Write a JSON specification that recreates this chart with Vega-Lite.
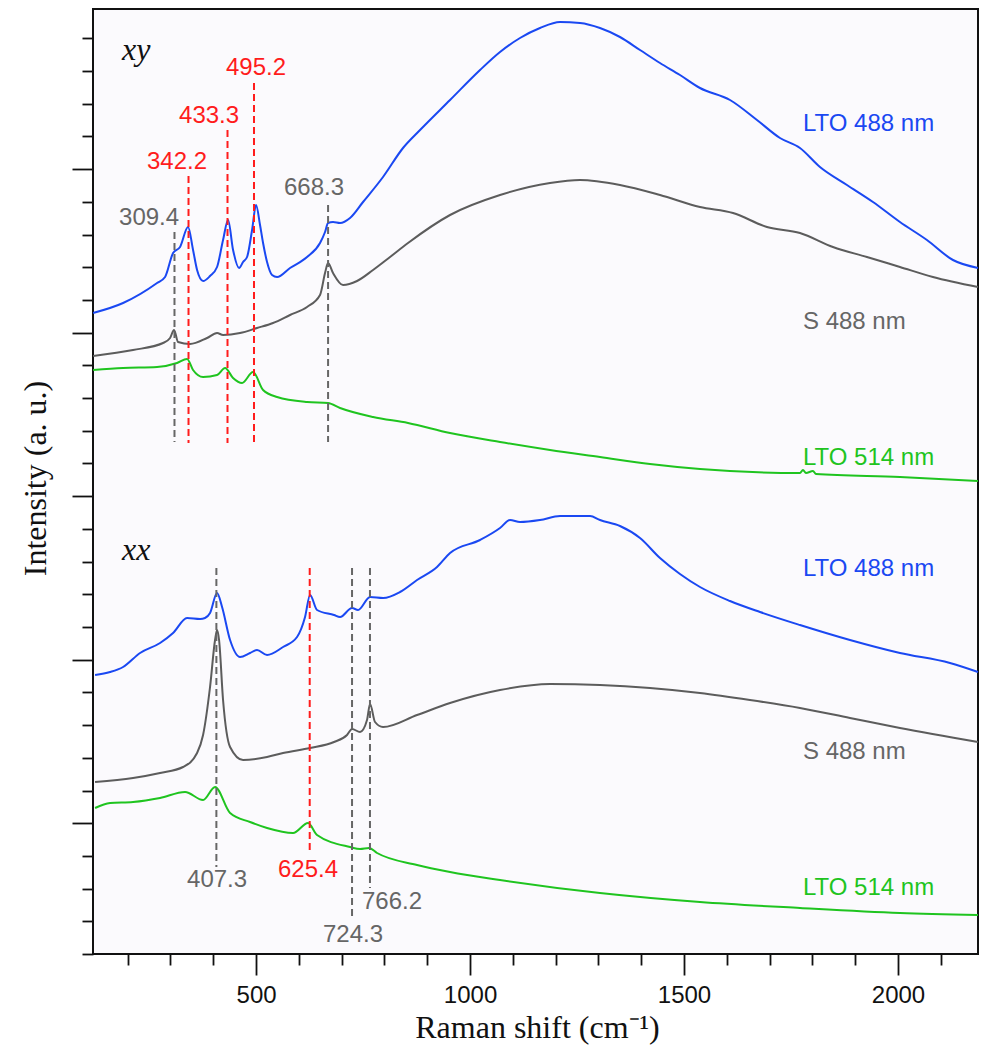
{
"$schema":"https://vega.github.io/schema/vega-lite/v6.json",
"width":885,"height":945,
"autosize":{"type":"none"},
"padding":{"left":93,"top":9,"right":16,"bottom":107},
"background":"white",
"config":{"view":{"fill":"#fbfafd","stroke":"#111111","strokeWidth":2},"axis":{"domain":false,"grid":false,"tickColor":"#111111","tickWidth":1.8}},
"resolve":{"axis":{"x":"independent","y":"independent"}},
"datasets":{
"curves":[
{"g":"LTO 488 nm","p":"xy","x":119.2,"y":641},{"g":"LTO 488 nm","p":"xy","x":189.3,"y":651},{"g":"LTO 488 nm","p":"xy","x":268.7,"y":671},{"g":"LTO 488 nm","p":"xy","x":287.4,"y":677},{"g":"LTO 488 nm","p":"xy","x":306.1,"y":701},{"g":"LTO 488 nm","p":"xy","x":322.4,"y":707},{"g":"LTO 488 nm","p":"xy","x":341.1,"y":727},{"g":"LTO 488 nm","p":"xy","x":352.8,"y":704},{"g":"LTO 488 nm","p":"xy","x":362.2,"y":684},{"g":"LTO 488 nm","p":"xy","x":376.2,"y":673},{"g":"LTO 488 nm","p":"xy","x":392.5,"y":678},{"g":"LTO 488 nm","p":"xy","x":408.9,"y":687},{"g":"LTO 488 nm","p":"xy","x":422.9,"y":714},{"g":"LTO 488 nm","p":"xy","x":434.6,"y":734},{"g":"LTO 488 nm","p":"xy","x":446.3,"y":704},{"g":"LTO 488 nm","p":"xy","x":460.3,"y":686},{"g":"LTO 488 nm","p":"xy","x":469.6,"y":692},{"g":"LTO 488 nm","p":"xy","x":479,"y":697},{"g":"LTO 488 nm","p":"xy","x":490.7,"y":724},{"g":"LTO 488 nm","p":"xy","x":500,"y":749},{"g":"LTO 488 nm","p":"xy","x":509.3,"y":729},{"g":"LTO 488 nm","p":"xy","x":516.4,"y":711},{"g":"LTO 488 nm","p":"xy","x":525.7,"y":692},{"g":"LTO 488 nm","p":"xy","x":537.4,"y":679},{"g":"LTO 488 nm","p":"xy","x":549.1,"y":677},{"g":"LTO 488 nm","p":"xy","x":579.4,"y":686},{"g":"LTO 488 nm","p":"xy","x":619.2,"y":697},{"g":"LTO 488 nm","p":"xy","x":649.5,"y":711},{"g":"LTO 488 nm","p":"xy","x":661.2,"y":722},{"g":"LTO 488 nm","p":"xy","x":668.2,"y":731},{"g":"LTO 488 nm","p":"xy","x":679.9,"y":732},{"g":"LTO 488 nm","p":"xy","x":696.3,"y":731},{"g":"LTO 488 nm","p":"xy","x":719.6,"y":736},{"g":"LTO 488 nm","p":"xy","x":750,"y":752},{"g":"LTO 488 nm","p":"xy","x":796.7,"y":777},{"g":"LTO 488 nm","p":"xy","x":843.4,"y":806},{"g":"LTO 488 nm","p":"xy","x":883.2,"y":824},{"g":"LTO 488 nm","p":"xy","x":953.3,"y":854},{"g":"LTO 488 nm","p":"xy","x":1023.4,"y":884},{"g":"LTO 488 nm","p":"xy","x":1070.1,"y":902},{"g":"LTO 488 nm","p":"xy","x":1116.8,"y":916},{"g":"LTO 488 nm","p":"xy","x":1163.5,"y":926},{"g":"LTO 488 nm","p":"xy","x":1210.3,"y":932},{"g":"LTO 488 nm","p":"xy","x":1257,"y":931},{"g":"LTO 488 nm","p":"xy","x":1303.7,"y":926},{"g":"LTO 488 nm","p":"xy","x":1350.4,"y":917},{"g":"LTO 488 nm","p":"xy","x":1397.2,"y":904},{"g":"LTO 488 nm","p":"xy","x":1443.9,"y":891},{"g":"LTO 488 nm","p":"xy","x":1490.6,"y":879},{"g":"LTO 488 nm","p":"xy","x":1537.4,"y":866},{"g":"LTO 488 nm","p":"xy","x":1607.5,"y":854},{"g":"LTO 488 nm","p":"xy","x":1670.5,"y":834},{"g":"LTO 488 nm","p":"xy","x":1724.3,"y":816},{"g":"LTO 488 nm","p":"xy","x":1771,"y":806},{"g":"LTO 488 nm","p":"xy","x":1817.7,"y":787},{"g":"LTO 488 nm","p":"xy","x":1880.8,"y":769},{"g":"LTO 488 nm","p":"xy","x":1941.6,"y":752},{"g":"LTO 488 nm","p":"xy","x":2004.6,"y":732},{"g":"LTO 488 nm","p":"xy","x":2067.7,"y":714},{"g":"LTO 488 nm","p":"xy","x":2128.5,"y":694},{"g":"LTO 488 nm","p":"xy","x":2186.9,"y":686},
{"g":"S 488 nm","p":"xy","x":119.2,"y":598},{"g":"S 488 nm","p":"xy","x":212.6,"y":604},{"g":"S 488 nm","p":"xy","x":282.7,"y":611},{"g":"S 488 nm","p":"xy","x":299.1,"y":616},{"g":"S 488 nm","p":"xy","x":308.4,"y":624},{"g":"S 488 nm","p":"xy","x":317.8,"y":612},{"g":"S 488 nm","p":"xy","x":345.8,"y":610},{"g":"S 488 nm","p":"xy","x":385.5,"y":616},{"g":"S 488 nm","p":"xy","x":408.9,"y":621},{"g":"S 488 nm","p":"xy","x":422.9,"y":619},{"g":"S 488 nm","p":"xy","x":462.6,"y":621},{"g":"S 488 nm","p":"xy","x":502.3,"y":626},{"g":"S 488 nm","p":"xy","x":539.7,"y":631},{"g":"S 488 nm","p":"xy","x":579.4,"y":639},{"g":"S 488 nm","p":"xy","x":619.2,"y":647},{"g":"S 488 nm","p":"xy","x":649.5,"y":659},{"g":"S 488 nm","p":"xy","x":661.2,"y":681},{"g":"S 488 nm","p":"xy","x":668.2,"y":691},{"g":"S 488 nm","p":"xy","x":679.9,"y":681},{"g":"S 488 nm","p":"xy","x":703.3,"y":669},{"g":"S 488 nm","p":"xy","x":736,"y":673},{"g":"S 488 nm","p":"xy","x":773.4,"y":684},{"g":"S 488 nm","p":"xy","x":813.1,"y":697},{"g":"S 488 nm","p":"xy","x":855.1,"y":711},{"g":"S 488 nm","p":"xy","x":953.3,"y":739},{"g":"S 488 nm","p":"xy","x":1070.1,"y":759},{"g":"S 488 nm","p":"xy","x":1186.9,"y":771},{"g":"S 488 nm","p":"xy","x":1257,"y":774},{"g":"S 488 nm","p":"xy","x":1350.4,"y":769},{"g":"S 488 nm","p":"xy","x":1443.9,"y":759},{"g":"S 488 nm","p":"xy","x":1537.4,"y":747},{"g":"S 488 nm","p":"xy","x":1614.5,"y":741},{"g":"S 488 nm","p":"xy","x":1693.9,"y":727},{"g":"S 488 nm","p":"xy","x":1771,"y":721},{"g":"S 488 nm","p":"xy","x":1848.1,"y":707},{"g":"S 488 nm","p":"xy","x":1927.5,"y":697},{"g":"S 488 nm","p":"xy","x":2004.6,"y":687},{"g":"S 488 nm","p":"xy","x":2081.7,"y":677},{"g":"S 488 nm","p":"xy","x":2186.9,"y":667},
{"g":"LTO 514 nm","p":"xy","x":119.2,"y":584},{"g":"LTO 514 nm","p":"xy","x":189.3,"y":586},{"g":"LTO 514 nm","p":"xy","x":268.7,"y":587},{"g":"LTO 514 nm","p":"xy","x":315.4,"y":591},{"g":"LTO 514 nm","p":"xy","x":338.8,"y":595},{"g":"LTO 514 nm","p":"xy","x":352.8,"y":584},{"g":"LTO 514 nm","p":"xy","x":376.2,"y":577},{"g":"LTO 514 nm","p":"xy","x":408.9,"y":579},{"g":"LTO 514 nm","p":"xy","x":427.6,"y":586},{"g":"LTO 514 nm","p":"xy","x":446.3,"y":576},{"g":"LTO 514 nm","p":"xy","x":467.3,"y":571},{"g":"LTO 514 nm","p":"xy","x":493,"y":582},{"g":"LTO 514 nm","p":"xy","x":516.4,"y":564},{"g":"LTO 514 nm","p":"xy","x":549.1,"y":557},{"g":"LTO 514 nm","p":"xy","x":619.2,"y":552},{"g":"LTO 514 nm","p":"xy","x":668.2,"y":551},{"g":"LTO 514 nm","p":"xy","x":696.3,"y":546},{"g":"LTO 514 nm","p":"xy","x":773.4,"y":537},{"g":"LTO 514 nm","p":"xy","x":855.1,"y":531},{"g":"LTO 514 nm","p":"xy","x":953.3,"y":521},{"g":"LTO 514 nm","p":"xy","x":1070.1,"y":512},{"g":"LTO 514 nm","p":"xy","x":1186.9,"y":504},{"g":"LTO 514 nm","p":"xy","x":1303.7,"y":497},{"g":"LTO 514 nm","p":"xy","x":1420.5,"y":490},{"g":"LTO 514 nm","p":"xy","x":1537.4,"y":485},{"g":"LTO 514 nm","p":"xy","x":1771,"y":481},{"g":"LTO 514 nm","p":"xy","x":1778,"y":484},{"g":"LTO 514 nm","p":"xy","x":1785,"y":481},{"g":"LTO 514 nm","p":"xy","x":1801.4,"y":483},{"g":"LTO 514 nm","p":"xy","x":1808.4,"y":480},{"g":"LTO 514 nm","p":"xy","x":2004.6,"y":477},{"g":"LTO 514 nm","p":"xy","x":2186.9,"y":473},
{"g":"LTO 488 nm","p":"xx","x":123.8,"y":279},{"g":"LTO 488 nm","p":"xx","x":158.9,"y":282},{"g":"LTO 488 nm","p":"xx","x":189.3,"y":287},{"g":"LTO 488 nm","p":"xx","x":229,"y":301},{"g":"LTO 488 nm","p":"xx","x":275.7,"y":311},{"g":"LTO 488 nm","p":"xx","x":306.1,"y":321},{"g":"LTO 488 nm","p":"xx","x":338.8,"y":336},{"g":"LTO 488 nm","p":"xx","x":369.2,"y":335},{"g":"LTO 488 nm","p":"xx","x":380.8,"y":336},{"g":"LTO 488 nm","p":"xx","x":392.5,"y":341},{"g":"LTO 488 nm","p":"xx","x":408.9,"y":361},{"g":"LTO 488 nm","p":"xx","x":420.6,"y":347},{"g":"LTO 488 nm","p":"xx","x":439.3,"y":314},{"g":"LTO 488 nm","p":"xx","x":462.6,"y":297},{"g":"LTO 488 nm","p":"xx","x":486,"y":301},{"g":"LTO 488 nm","p":"xx","x":502.3,"y":304},{"g":"LTO 488 nm","p":"xx","x":525.7,"y":299},{"g":"LTO 488 nm","p":"xx","x":563.1,"y":307},{"g":"LTO 488 nm","p":"xx","x":595.8,"y":317},{"g":"LTO 488 nm","p":"xx","x":614.5,"y":337},{"g":"LTO 488 nm","p":"xx","x":626.2,"y":359},{"g":"LTO 488 nm","p":"xx","x":642.5,"y":344},{"g":"LTO 488 nm","p":"xx","x":682.2,"y":339},{"g":"LTO 488 nm","p":"xx","x":696.3,"y":337},{"g":"LTO 488 nm","p":"xx","x":724.3,"y":346},{"g":"LTO 488 nm","p":"xx","x":738.3,"y":344},{"g":"LTO 488 nm","p":"xx","x":766.4,"y":357},{"g":"LTO 488 nm","p":"xx","x":796.7,"y":356},{"g":"LTO 488 nm","p":"xx","x":836.4,"y":362},{"g":"LTO 488 nm","p":"xx","x":876.2,"y":374},{"g":"LTO 488 nm","p":"xx","x":922.9,"y":387},{"g":"LTO 488 nm","p":"xx","x":953.3,"y":401},{"g":"LTO 488 nm","p":"xx","x":1023.4,"y":414},{"g":"LTO 488 nm","p":"xx","x":1070.1,"y":426},{"g":"LTO 488 nm","p":"xx","x":1093.4,"y":434},{"g":"LTO 488 nm","p":"xx","x":1116.8,"y":432},{"g":"LTO 488 nm","p":"xx","x":1163.5,"y":434},{"g":"LTO 488 nm","p":"xx","x":1210.3,"y":438},{"g":"LTO 488 nm","p":"xx","x":1280.4,"y":438},{"g":"LTO 488 nm","p":"xx","x":1303.7,"y":434},{"g":"LTO 488 nm","p":"xx","x":1350.4,"y":428},{"g":"LTO 488 nm","p":"xx","x":1397.2,"y":416},{"g":"LTO 488 nm","p":"xx","x":1443.9,"y":396},{"g":"LTO 488 nm","p":"xx","x":1490.6,"y":380},{"g":"LTO 488 nm","p":"xx","x":1537.4,"y":367},{"g":"LTO 488 nm","p":"xx","x":1607.5,"y":353},{"g":"LTO 488 nm","p":"xx","x":1677.5,"y":342},{"g":"LTO 488 nm","p":"xx","x":1771,"y":329},{"g":"LTO 488 nm","p":"xx","x":1887.8,"y":314},{"g":"LTO 488 nm","p":"xx","x":2004.6,"y":301},{"g":"LTO 488 nm","p":"xx","x":2121.5,"y":291},{"g":"LTO 488 nm","p":"xx","x":2186.9,"y":282},
{"g":"S 488 nm","p":"xx","x":123.8,"y":172},{"g":"S 488 nm","p":"xx","x":212.6,"y":176},{"g":"S 488 nm","p":"xx","x":275.7,"y":181},{"g":"S 488 nm","p":"xx","x":329.4,"y":187},{"g":"S 488 nm","p":"xx","x":362.2,"y":201},{"g":"S 488 nm","p":"xx","x":376.2,"y":219},{"g":"S 488 nm","p":"xx","x":392.5,"y":267},{"g":"S 488 nm","p":"xx","x":404.2,"y":314},{"g":"S 488 nm","p":"xx","x":408.9,"y":324},{"g":"S 488 nm","p":"xx","x":413.6,"y":314},{"g":"S 488 nm","p":"xx","x":422.9,"y":254},{"g":"S 488 nm","p":"xx","x":439.3,"y":207},{"g":"S 488 nm","p":"xx","x":469.6,"y":194},{"g":"S 488 nm","p":"xx","x":525.7,"y":197},{"g":"S 488 nm","p":"xx","x":563.1,"y":201},{"g":"S 488 nm","p":"xx","x":626.2,"y":206},{"g":"S 488 nm","p":"xx","x":682.2,"y":212},{"g":"S 488 nm","p":"xx","x":712.6,"y":219},{"g":"S 488 nm","p":"xx","x":724.3,"y":225},{"g":"S 488 nm","p":"xx","x":743,"y":222},{"g":"S 488 nm","p":"xx","x":759.3,"y":234},{"g":"S 488 nm","p":"xx","x":766.4,"y":250},{"g":"S 488 nm","p":"xx","x":778,"y":232},{"g":"S 488 nm","p":"xx","x":796.7,"y":227},{"g":"S 488 nm","p":"xx","x":876.2,"y":239},{"g":"S 488 nm","p":"xx","x":953.3,"y":251},{"g":"S 488 nm","p":"xx","x":1070.1,"y":264},{"g":"S 488 nm","p":"xx","x":1186.9,"y":270},{"g":"S 488 nm","p":"xx","x":1303.7,"y":269},{"g":"S 488 nm","p":"xx","x":1420.5,"y":266},{"g":"S 488 nm","p":"xx","x":1537.4,"y":261},{"g":"S 488 nm","p":"xx","x":1654.2,"y":254},{"g":"S 488 nm","p":"xx","x":1771,"y":246},{"g":"S 488 nm","p":"xx","x":1887.8,"y":236},{"g":"S 488 nm","p":"xx","x":2004.6,"y":226},{"g":"S 488 nm","p":"xx","x":2186.9,"y":212},
{"g":"LTO 514 nm","p":"xx","x":123.8,"y":146},{"g":"LTO 514 nm","p":"xx","x":158.9,"y":151},{"g":"LTO 514 nm","p":"xx","x":212.6,"y":152},{"g":"LTO 514 nm","p":"xx","x":275.7,"y":156},{"g":"LTO 514 nm","p":"xx","x":334.1,"y":162},{"g":"LTO 514 nm","p":"xx","x":376.2,"y":154},{"g":"LTO 514 nm","p":"xx","x":404.2,"y":167},{"g":"LTO 514 nm","p":"xx","x":439.3,"y":141},{"g":"LTO 514 nm","p":"xx","x":486,"y":132},{"g":"LTO 514 nm","p":"xx","x":525.7,"y":126},{"g":"LTO 514 nm","p":"xx","x":586.4,"y":121},{"g":"LTO 514 nm","p":"xx","x":621.5,"y":131},{"g":"LTO 514 nm","p":"xx","x":642.5,"y":119},{"g":"LTO 514 nm","p":"xx","x":719.6,"y":107},{"g":"LTO 514 nm","p":"xx","x":743,"y":105},{"g":"LTO 514 nm","p":"xx","x":764,"y":106},{"g":"LTO 514 nm","p":"xx","x":782.7,"y":101},{"g":"LTO 514 nm","p":"xx","x":876.2,"y":89},{"g":"LTO 514 nm","p":"xx","x":953.3,"y":82},{"g":"LTO 514 nm","p":"xx","x":1070.1,"y":74},{"g":"LTO 514 nm","p":"xx","x":1303.7,"y":61},{"g":"LTO 514 nm","p":"xx","x":1537.4,"y":52},{"g":"LTO 514 nm","p":"xx","x":1771,"y":46},{"g":"LTO 514 nm","p":"xx","x":2004.6,"y":41},{"g":"LTO 514 nm","p":"xx","x":2186.9,"y":39}
],
"modes":[
{"x":309.4,"y":722,"y2":512,"g":"S mode","t":"309.4","lx":250,"ly":736},
{"x":342.2,"y":778,"y2":511,"g":"LTO mode","t":"342.2","lx":315.4,"ly":792},
{"x":433.3,"y":824,"y2":511,"g":"LTO mode","t":"433.3","lx":390.2,"ly":838},
{"x":495.2,"y":871,"y2":511,"g":"LTO mode","t":"495.2","lx":500,"ly":886},
{"x":668.3,"y":749,"y2":512,"g":"S mode","t":"668.3","lx":635.5,"ly":766},
{"x":407.3,"y":386,"y2":87,"g":"S mode","t":"407.3","lx":408.9,"ly":74},
{"x":625.4,"y":386,"y2":102,"g":"LTO mode","t":"625.4","lx":621.5,"ly":84},
{"x":724.3,"y":386,"y2":36,"g":"S mode","t":"724.3","lx":726.6,"ly":19},
{"x":766.2,"y":386,"y2":66,"g":"S mode","t":"766.2","lx":817.8,"ly":52}
],
"names":[
{"x":1778,"y":830,"t":"LTO 488 nm","g":"LTO 488 nm"},
{"x":1778,"y":632,"t":"S 488 nm","g":"S mode"},
{"x":1778,"y":496,"t":"LTO 514 nm","g":"LTO 514 nm"},
{"x":1778,"y":385,"t":"LTO 488 nm","g":"LTO 488 nm"},
{"x":1778,"y":202,"t":"S 488 nm","g":"S mode"},
{"x":1778,"y":66,"t":"LTO 514 nm","g":"LTO 514 nm"}
],
"pols":[{"x":187,"y":894,"t":"xy"},{"x":187,"y":394,"t":"xx"}]
},
"layer":[
{"data":{"name":"curves"},"mark":{"type":"line","strokeWidth":2,"interpolate":"monotone"},
"encoding":{
"x":{"field":"x","type":"quantitative","scale":{"domain":[119,2187],"nice":false,"zero":false},
"axis":{"orient":"bottom","values":[500,1000,1500,2000],"format":"d","tickSize":21,"labelFont":"Liberation Sans","labelFontSize":24,"labelColor":"#111111","labelPadding":8,"title":"Raman shift (cm⁻¹)","titleFont":"Liberation Serif","titleFontSize":32,"titleFontWeight":"normal","titleColor":"#111111","titleX":444,"titleY":83,"titleBaseline":"alphabetic"}},
"y":{"field":"y","type":"quantitative","scale":{"domain":[0,945],"nice":false,"zero":false},
"axis":{"orient":"left","values":[130.8,294.3,457.8,621.3,784.8],"tickSize":21,"labels":false,"title":"Intensity (a. u.)","titleFont":"Liberation Serif","titleFontSize":32,"titleFontWeight":"normal","titleColor":"#111111","titleX":-48,"titleY":469,"titleAngle":-90,"titleAlign":"center","titleBaseline":"alphabetic"}},
"color":{"field":"g","type":"nominal","legend":null,"scale":{"domain":["LTO 488 nm","S 488 nm","LTO 514 nm","LTO mode","S mode"],"range":["#1a48f2","#5c5c5c","#1fc41f","#ff1c1c","#666666"]}},
"detail":{"field":"p","type":"nominal"}}},
{"data":{"name":"modes"},"mark":{"type":"rule","strokeWidth":2,"strokeDash":[7,4]},
"encoding":{
"x":{"field":"x","type":"quantitative","axis":{"orient":"bottom","values":[200,300,400,600,700,800,900,1100,1200,1300,1400,1600,1700,1800,1900,2100],"tickSize":11,"labels":false,"title":null}},
"y":{"field":"y","type":"quantitative","axis":{"orient":"left","values":[0,32.7,65.4,98.1,163.5,196.2,228.9,261.6,327,359.7,392.4,425.1,490.5,523.2,555.9,588.6,654,686.7,719.4,752.1,817.5,850.2,882.9,915.6],"tickSize":11,"labels":false,"title":null}},
"y2":{"field":"y2"},
"color":{"field":"g","type":"nominal","legend":null}}},
{"data":{"name":"modes"},"mark":{"type":"text","font":"Liberation Sans","fontSize":24,"align":"center","baseline":"middle"},
"encoding":{
"x":{"field":"lx","type":"quantitative","axis":null},
"y":{"field":"ly","type":"quantitative","axis":null},
"text":{"field":"t"},
"color":{"field":"g","type":"nominal","legend":null}}},
{"data":{"name":"names"},"mark":{"type":"text","font":"Liberation Sans","fontSize":24,"align":"left","baseline":"middle"},
"encoding":{
"x":{"field":"x","type":"quantitative","axis":null},
"y":{"field":"y","type":"quantitative","axis":null},
"text":{"field":"t"},
"color":{"field":"g","type":"nominal","legend":null}}},
{"data":{"name":"pols"},"mark":{"type":"text","font":"Liberation Serif","fontSize":32,"fontStyle":"italic","align":"left","baseline":"alphabetic","color":"#111111"},
"encoding":{
"x":{"field":"x","type":"quantitative","axis":null},
"y":{"field":"y","type":"quantitative","axis":null},
"text":{"field":"t"}}}
]
}
